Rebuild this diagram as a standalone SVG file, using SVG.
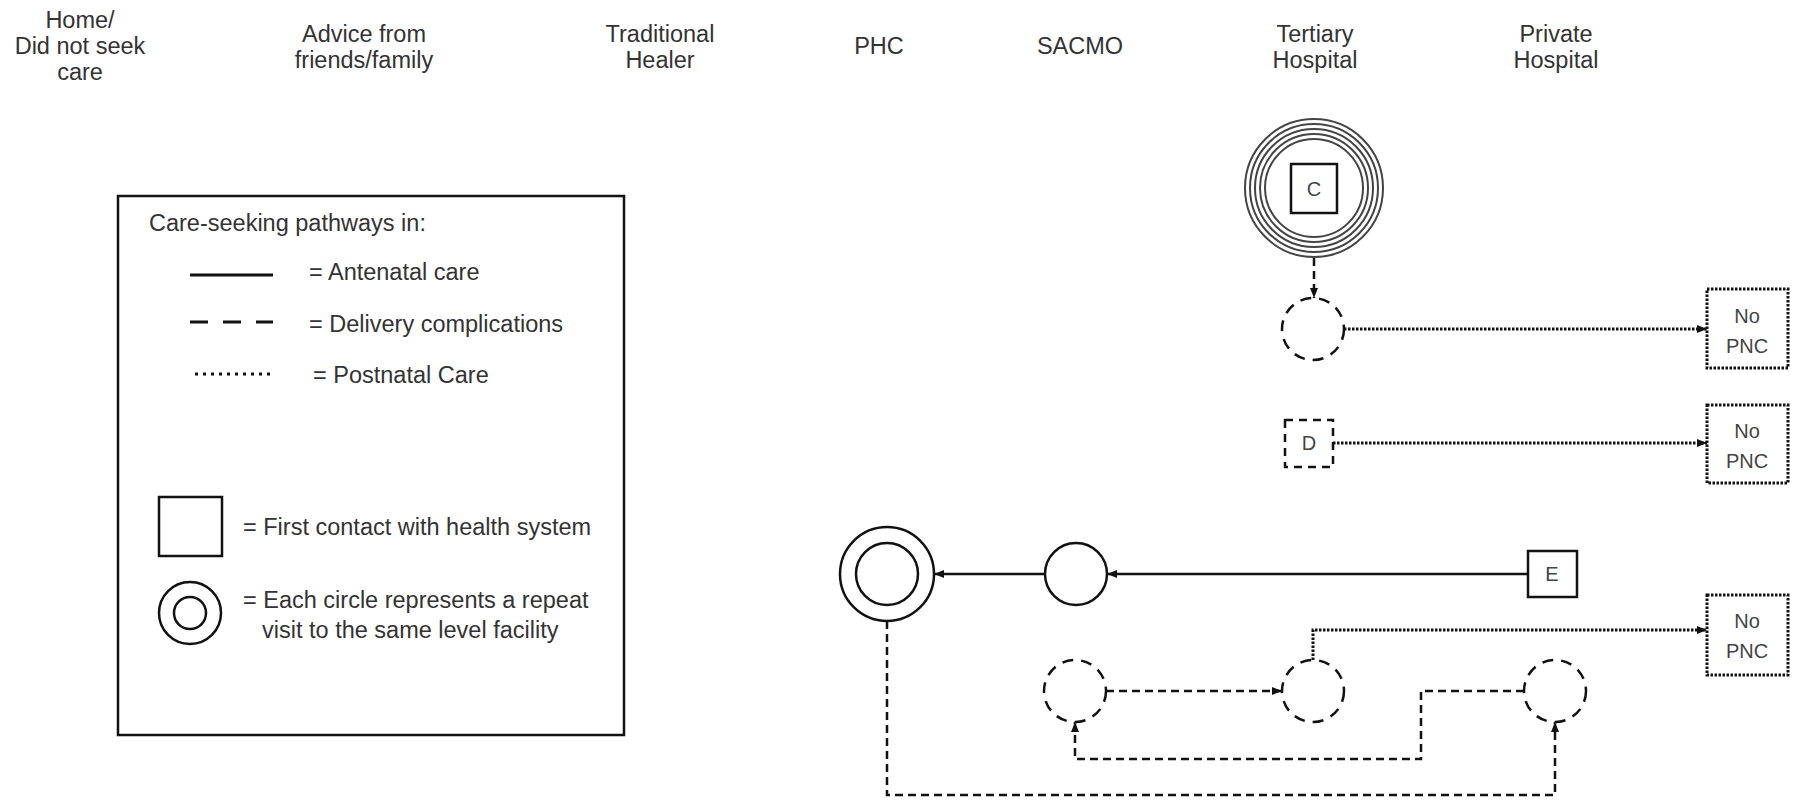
<svg xmlns="http://www.w3.org/2000/svg" width="1796" height="801" viewBox="0 0 1796 801">
<defs>
<style>
text{font-family:"Liberation Sans",Arial,sans-serif;fill:#333;}
.hdr{font-size:23.5px;text-anchor:middle;}
.leg{font-size:23.5px;}
.lbl{font-size:20px;text-anchor:middle;fill:#444;}
.solid{fill:none;stroke:#111;stroke-width:2.5;}
.dash{fill:none;stroke:#111;stroke-width:2.5;stroke-dasharray:8 5;}
.dot{fill:none;stroke:#111;stroke-width:3;stroke-dasharray:2.5 1.5;}
.dcirc{fill:none;stroke:#111;stroke-width:2.5;stroke-dasharray:11 8;}
.ring{fill:none;stroke:#444;stroke-width:2;}
.box{fill:#fff;stroke:#111;stroke-width:2.5;}
.pnc{fill:#fff;stroke:#111;stroke-width:3;stroke-dasharray:2.5 1.5;}
</style>
<marker id="ah" viewBox="0 0 10 10" refX="10" refY="5" markerWidth="10" markerHeight="10" markerUnits="userSpaceOnUse" orient="auto">
<path d="M0,1 L10,5 L0,9 z" fill="#111"/>
</marker>
</defs>
<rect width="1796" height="801" fill="#fff"/>

<g id="headers">
<text class="hdr" x="80" y="28">Home/</text>
<text class="hdr" x="80" y="54">Did not seek</text>
<text class="hdr" x="80" y="80">care</text>
<text class="hdr" x="364" y="42">Advice from</text>
<text class="hdr" x="364" y="68">friends/family</text>
<text class="hdr" x="660" y="42">Traditional</text>
<text class="hdr" x="660" y="68">Healer</text>
<text class="hdr" x="879" y="54">PHC</text>
<text class="hdr" x="1080" y="54">SACMO</text>
<text class="hdr" x="1315" y="42">Tertiary</text>
<text class="hdr" x="1315" y="68">Hospital</text>
<text class="hdr" x="1556" y="42">Private</text>
<text class="hdr" x="1556" y="68">Hospital</text>
</g>

<g id="legend">
<rect x="118" y="196" width="506" height="539" fill="#fff" stroke="#111" stroke-width="2.5"/>
<text class="leg" x="149" y="231">Care-seeking pathways in:</text>
<line x1="190" y1="275" x2="273" y2="275" stroke="#111" stroke-width="3"/>
<text class="leg" x="309" y="280">= Antenatal care</text>
<line x1="190" y1="322" x2="273" y2="322" stroke="#111" stroke-width="3" stroke-dasharray="18 15"/>
<text class="leg" x="309" y="332">= Delivery complications</text>
<line x1="195" y1="374" x2="275" y2="374" stroke="#111" stroke-width="3" stroke-dasharray="3 5"/>
<text class="leg" x="313" y="383">= Postnatal Care</text>
<rect x="159" y="497" width="63" height="59" fill="#fff" stroke="#111" stroke-width="2.5"/>
<text class="leg" x="243" y="535">= First contact with  health system</text>
<circle cx="190" cy="613" r="31" fill="none" stroke="#111" stroke-width="2.5"/>
<circle cx="190" cy="613" r="16" fill="none" stroke="#111" stroke-width="2.5"/>
<text class="leg" x="243" y="608">= Each circle represents a repeat</text>
<text class="leg" x="262" y="638">visit to the same level facility</text>
</g>

<g id="connectors">
<path class="dash" d="M1314,258 L1314,298" marker-end="url(#ah)"/>
<path class="dot" d="M1344,329 L1707,329" marker-end="url(#ah)"/>
<path class="dot" d="M1333,443 L1707,443" marker-end="url(#ah)"/>
<path class="solid" d="M1528,574 L1107,574" marker-end="url(#ah)"/>
<path class="solid" d="M1045,574 L934,574" marker-end="url(#ah)"/>
<path class="dash" d="M887,621 L887,795 L1555,795 L1555,722" marker-end="url(#ah)"/>
<path class="dash" d="M1524,691 L1421,691 L1421,759 L1075,759 L1075,722" marker-end="url(#ah)"/>
<path class="dash" d="M1106,691 L1282,691" marker-end="url(#ah)"/>
<path class="dot" d="M1313,660 L1313,630 L1707,630" marker-end="url(#ah)"/>
</g>

<g id="node-C">
<circle class="ring" cx="1314" cy="188" r="69"/>
<circle class="ring" cx="1314" cy="188" r="64"/>
<circle class="ring" cx="1314" cy="188" r="59"/>
<circle class="ring" cx="1314" cy="188" r="54"/>
<circle class="ring" cx="1314" cy="188" r="49"/>
<rect class="box" x="1291" y="164" width="46" height="49"/>
<text class="lbl" x="1314" y="196">C</text>
</g>
<g id="node-tertiary-delivery">
<circle class="dcirc" cx="1313" cy="329" r="31"/>
</g>
<g id="node-D">
<rect x="1285" y="420" width="48" height="47" fill="#fff" stroke="#111" stroke-width="2.5" stroke-dasharray="8 6"/>
<text class="lbl" x="1309" y="450">D</text>
</g>
<g id="node-nopnc-1">
<rect class="pnc" x="1707" y="289" width="81" height="79"/>
<text class="lbl" x="1747" y="323">No</text>
<text class="lbl" x="1747" y="353">PNC</text>
</g>
<g id="node-nopnc-2">
<rect class="pnc" x="1707" y="405" width="81" height="78"/>
<text class="lbl" x="1747" y="438">No</text>
<text class="lbl" x="1747" y="468">PNC</text>
</g>
<g id="node-E">
<rect class="box" x="1528" y="551" width="49" height="46"/>
<text class="lbl" x="1552" y="581">E</text>
</g>
<g id="node-sacmo-anc">
<circle cx="1076" cy="574" r="31" fill="#fff" stroke="#111" stroke-width="2.5"/>
</g>
<g id="node-phc-anc">
<circle cx="887" cy="574" r="47" fill="#fff" stroke="#111" stroke-width="2.5"/>
<circle cx="887" cy="574" r="31" fill="none" stroke="#111" stroke-width="2.5"/>
</g>
<g id="node-nopnc-3">
<rect class="pnc" x="1707" y="595" width="81" height="80"/>
<text class="lbl" x="1747" y="628">No</text>
<text class="lbl" x="1747" y="658">PNC</text>
</g>
<g id="node-sacmo-delivery">
<circle class="dcirc" cx="1075" cy="691" r="31"/>
</g>
<g id="node-tertiary-delivery-2">
<circle class="dcirc" cx="1313" cy="691" r="31"/>
</g>
<g id="node-private-delivery">
<circle class="dcirc" cx="1555" cy="691" r="31"/>
</g>
</svg>
